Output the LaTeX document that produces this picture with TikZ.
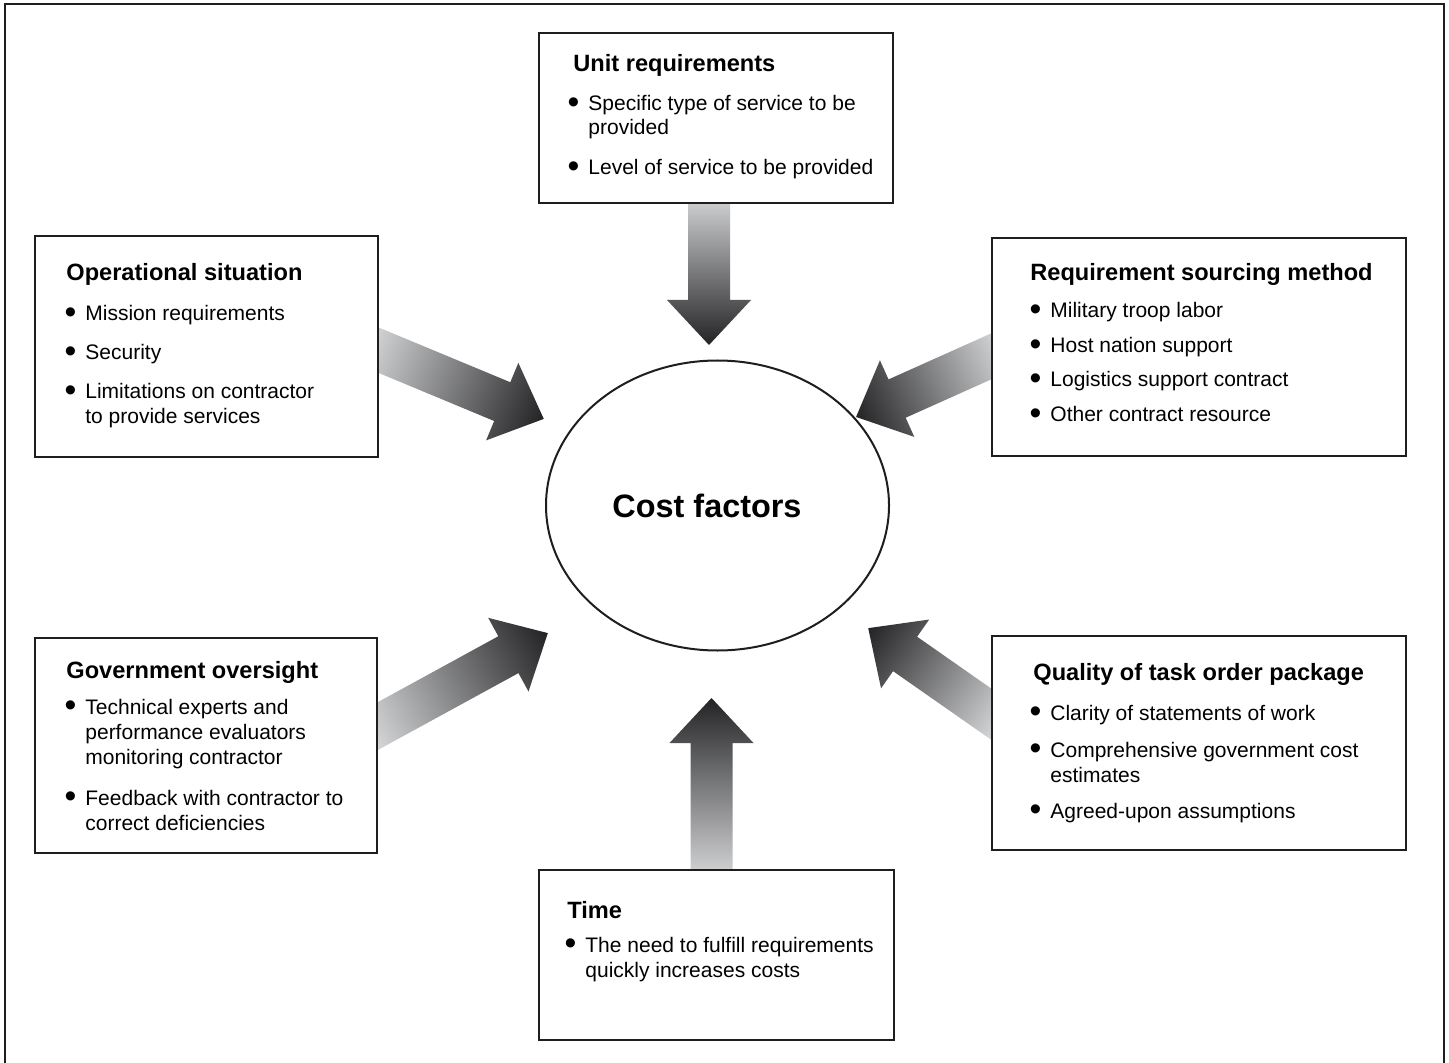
\documentclass[tikz,border=0pt]{standalone}
\usepackage{fontspec}
\usepackage{graphicx}
\setmainfont{Liberation Sans}
\usetikzlibrary{shapes.geometric,backgrounds}
\definecolor{arlight}{RGB}{230,231,233}
\definecolor{ardark}{RGB}{35,35,37}
\definecolor{linecol}{RGB}{30,30,30}
\tikzset{
  box/.style={draw=linecol, line width=1pt, fill=white, rectangle, inner sep=0pt},
  ttl/.style={anchor=base west, inner sep=0pt, font=\fontsize{11.8}{14}\selectfont\bfseries},
  txt/.style={anchor=base west, inner sep=0pt, font=\fontsize{10.5}{12.3}\selectfont},
}
\newcommand\bul{\llap{\raisebox{-1.4pt}{\scalebox{1.6}{\textbullet}}\hspace{4.5pt}}}
\newcommand\blockarrow[2]{%
  \pgfpointdiff{\pgfpointanchor{#1}{center}}{\pgfpointanchor{#2}{center}}%
  \pgfgetlastxy{\bax}{\bay}%
  \pgfmathsetmacro\baang{atan2(\bay,\bax)}%
  \pgfmathsetmacro\balen{veclen(\bax,\bay)}%
  \begin{scope}[transform canvas={shift={(#1)},rotate=\baang}]
    \shade[left color=arlight,right color=ardark]
      (0pt,-10.5pt) -- ({\balen pt-22.5pt},-10.5pt) -- ({\balen pt-22.5pt},-21pt)
      -- (\balen pt,0pt) -- ({\balen pt-22.5pt},21pt) -- ({\balen pt-22.5pt},10.5pt)
      -- (0pt,10.5pt) -- cycle;
  \end{scope}}
\begin{document}
\begin{tikzpicture}[x=0.5pt,y=-0.5pt]
\useasboundingbox (0,0) rectangle (1449,1063);
% outer frame (open at the bottom)
\draw[line width=1pt, draw=linecol] (5,1063) -- (5,4) -- (1444,4) -- (1444,1063);

% boxes
\node[box, minimum width=177pt, minimum height=85pt] (u) at (716,118) {};
\node[box, minimum width=171.5pt, minimum height=110.5pt] (os) at (206.5,346.5) {};
\node[box, minimum width=207pt, minimum height=109pt] (rs) at (1199,347) {};
\node[box, minimum width=171pt, minimum height=107.5pt] (go) at (206,745.5) {};
\node[box, minimum width=207pt, minimum height=107pt] (q) at (1199,743) {};
\node[box, minimum width=177.5pt, minimum height=85pt] (t) at (716.5,955) {};
\node[draw=linecol, line width=1pt, fill=white, ellipse, inner sep=0pt,
      minimum width=171.5pt, minimum height=145pt,
      font=\fontsize{16.2}{19}\selectfont\bfseries] (cf) at (717.5,505.5) {Cost factors\kern10.5pt};

% arrow end points
\coordinate (a1s) at (709,180);    \coordinate (a1e) at (709,345);
\coordinate (a2s) at (711.5,895);  \coordinate (a2e) at (711.5,698);
\coordinate (a3s) at (349.3,338);  \coordinate (a3e) at (544,419);
\coordinate (a4s) at (1018.4,344.2); \coordinate (a4e) at (856,417);
\coordinate (a5s) at (350.7,740.9); \coordinate (a5e) at (548,633);
\coordinate (a6s) at (1015.6,731.2); \coordinate (a6e) at (868,628);
\begin{pgfonlayer}{background}
\blockarrow{a1s}{a1e}
\blockarrow{a2s}{a2e}
\blockarrow{a3s}{a3e}
\blockarrow{a4s}{a4e}
\blockarrow{a5s}{a5e}
\blockarrow{a6s}{a6e}
\end{pgfonlayer}

% Unit requirements
\node[ttl] (ut) at (573,72) {Unit requirements};
\node[txt] (u1) at (588,111) {\bul Specific type of service to be};
\node[txt] (u1b) at (588,135) {provided};
\node[txt] (u2) at (588,175) {\bul Level of service to be provided};

% Operational situation
\node[ttl] (ost) at (66,281) {Operational situation};
\node[txt] (os1) at (85,321) {\bul Mission requirements};
\node[txt] (os2) at (85,360) {\bul Security};
\node[txt] (os3) at (85,399) {\bul Limitations on contractor};
\node[txt] (os3b) at (85,423) {to provide services};

% Requirement sourcing method
\node[ttl] (rst) at (1030,281) {Requirement sourcing method};
\node[txt] (rs1) at (1050,318) {\bul Military troop labor};
\node[txt] (rs2) at (1050,353) {\bul Host nation support};
\node[txt] (rs3) at (1050,387) {\bul Logistics support contract};
\node[txt] (rs4) at (1050,422) {\bul Other contract resource};

% Government oversight
\node[ttl] (got) at (66,678) {Government oversight};
\node[txt] (go1) at (85,714) {\bul Technical experts and};
\node[txt] (go1b) at (85,739) {performance evaluators};
\node[txt] (go1c) at (85,764) {monitoring contractor};
\node[txt] (go2) at (85,805) {\bul Feedback with contractor to};
\node[txt] (go2b) at (85,830) {correct deficiencies};

% Quality of task order package
\node[ttl] (qt) at (1033,680) {Quality of task order package};
\node[txt] (q1) at (1050,720) {\bul Clarity of statements of work};
\node[txt] (q2) at (1050,757) {\bul Comprehensive government cost};
\node[txt] (q2b) at (1050,782) {estimates};
\node[txt] (q3) at (1050,818) {\bul Agreed-upon assumptions};

% Time
\node[ttl] (tt) at (567,918) {Time};
\node[txt] (t1) at (585,952) {\bul The need to fulfill requirements};
\node[txt] (t1b) at (585,977) {quickly increases costs};
\end{tikzpicture}
\end{document}
